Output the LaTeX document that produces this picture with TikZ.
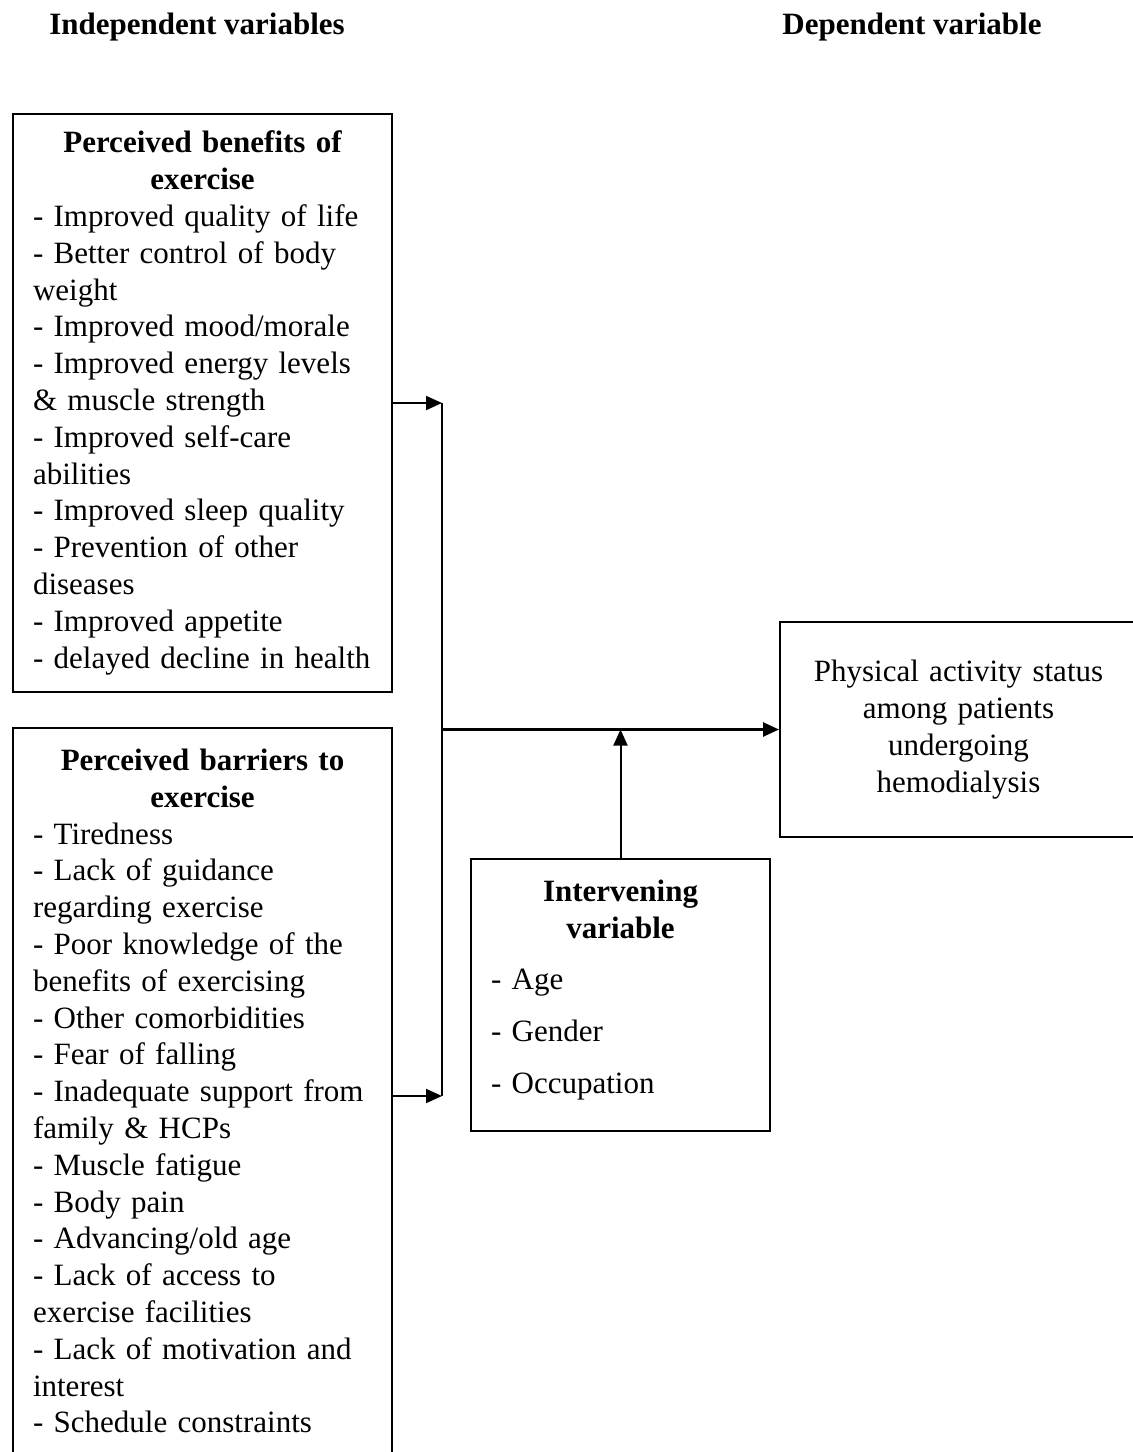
\documentclass[tikz,border=0pt]{standalone}
\usepackage{fontspec}
\setmainfont{Liberation Serif}
\usetikzlibrary{arrows.meta}

\tikzset{
  varbox/.style={draw, line width=1pt, anchor=north west, inner xsep=10pt, inner ysep=0pt},
  link/.style={line width=1pt, -{Triangle[length=8pt,width=7pt]}},
  heading/.style={font=\fontsize{15.5}{18.4}\selectfont\bfseries},
}
% extra room under the last line of a box
\newcommand{\boxfoot}[1]{\par\kern#1\nointerlineskip\hbox{}}

\begin{document}
\begin{tikzpicture}[x=0.5pt,y=-0.5pt,font=\fontsize{15.5}{18.4}\selectfont]
  \useasboundingbox (0,0) rectangle (1133,1452);

  % column titles
  \node[heading] (indep) at (197,27) {Independent variables};
  \node[heading] (dep) at (912,27) {Dependent variable};

  % independent variables
  \node[varbox, text width=169.5pt, minimum height=289pt] (benefits) at (12,113) {%
    \centering\textbf{Perceived benefits of\\exercise}\par\raggedright
    - Improved quality of life\\
    - Better control of body\\
    weight\\
    - Improved mood/morale\\
    - Improved energy levels\\
    \& muscle strength\\
    - Improved self-care\\
    abilities\\
    - Improved sleep quality\\
    - Prevention of other\\
    diseases\\
    - Improved appetite\\
    - delayed decline in health\par};

  \node[varbox, text width=169.5pt, minimum height=368pt] (barriers) at (12,727) {%
    \centering\textbf{Perceived barriers to\\exercise}\par\raggedright
    - Tiredness\\
    - Lack of guidance\\
    regarding exercise\\
    - Poor knowledge of the\\
    benefits of exercising\\
    - Other comorbidities\\
    - Fear of falling\\
    - Inadequate support from\\
    family \& HCPs\\
    - Muscle fatigue\\
    - Body pain\\
    - Advancing/old age\\
    - Lack of access to\\
    exercise facilities\\
    - Lack of motivation and\\
    interest\\
    - Schedule constraints\boxfoot{5pt}};

  % dependent variable
  \node[varbox, text width=158.5pt, minimum height=107.5pt, align=center] (outcome) at (779,621) {%
    Physical activity status\\
    among patients\\
    undergoing\\
    hemodialysis};

  % intervening variable
  \node[varbox, text width=129.5pt, minimum height=136pt] (interv) at (470,858) {%
    \centering\textbf{Intervening\\variable}\par\vspace{7.5pt}\raggedright
    - Age\\[7.5pt]
    - Gender\\[7.5pt]
    - Occupation\boxfoot{5pt}};

  % connectors
  \coordinate (bus) at (442,0);
  \draw[link] (benefits.east) -- (benefits.east -| bus);
  \draw[link] (barriers.east) -- (barriers.east -| bus);
  \draw[line width=1pt] (benefits.east -| bus) -- (barriers.east -| bus);
  \draw[link, line width=1.3pt] (outcome.west -| bus) -- (outcome.west);
  \draw[link] (interv.north) -- (interv.north |- outcome.west);
\end{tikzpicture}
\end{document}
